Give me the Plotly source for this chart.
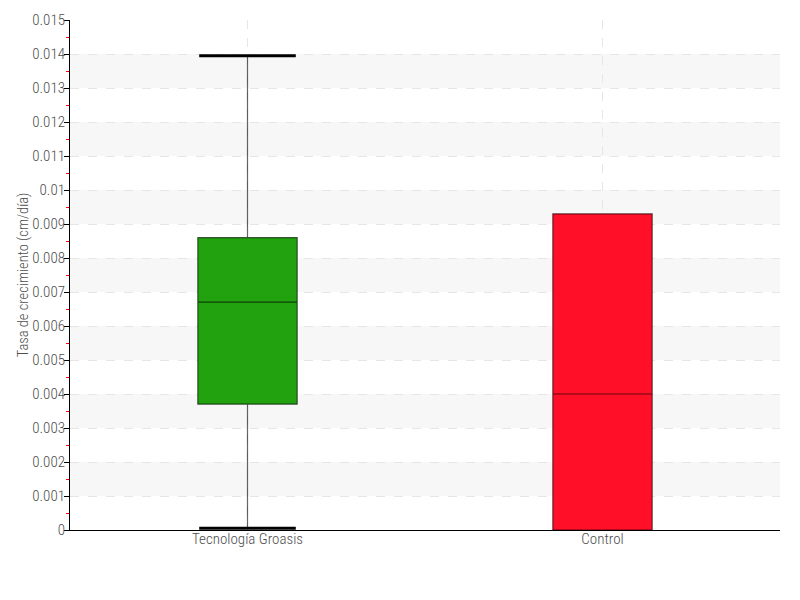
import plotly.graph_objects as go

categories = ["Tecnología Groasis", "Control"]
q1 = [0.0037, 0.0]
median = [0.0067, 0.004]
q3 = [0.0086, 0.0093]
lowerfence = [0.00005, 0.0]
upperfence = [0.01395, 0.0093]
colors = ["#22a20f", "#ff0f28"]
ytickvals = [i / 1000 for i in range(0, 16)]
yticktext = ["0"] + [f"{v:g}" for v in ytickvals[1:]]

FONT = "Roboto Condensed"

fig = go.Figure()
for i, c in enumerate(categories):
    fig.add_trace(go.Box(
        x=[c], q1=[q1[i]], median=[median[i]], q3=[q3[i]],
        lowerfence=[lowerfence[i]], upperfence=[upperfence[i]],
        fillcolor=colors[i], line=dict(color="rgba(0,0,0,0.6)", width=1.2),
        width=0.28, whiskerwidth=0, showlegend=False, hoverinfo="skip",
    ))

# thick whisker caps (only where whisker exists)
cap_x, cap_y = [], []
for i, c in enumerate(categories):
    if upperfence[i] > q3[i]:
        cap_x.append(c); cap_y.append(upperfence[i])
    if lowerfence[i] < q1[i]:
        cap_x.append(c); cap_y.append(lowerfence[i])
fig.add_trace(go.Scatter(
    x=cap_x, y=cap_y, mode="markers", showlegend=False, hoverinfo="skip",
    marker=dict(symbol="line-ew", size=69, line=dict(color="black", width=3)),
))

shapes = []
for k in range(1, 15, 2):
    shapes.append(dict(type="rect", xref="paper", yref="y", x0=0, x1=1,
                       y0=ytickvals[k], y1=ytickvals[k + 1],
                       fillcolor="#f7f7f7", line=dict(width=0), layer="below"))

fig.update_layout(
    width=800, height=600,
    margin=dict(l=62, r=28, t=12, b=78),
    plot_bgcolor="white", paper_bgcolor="white",
    font=dict(family=FONT, size=15, color="#4d4d4d", weight=300),
    shapes=shapes,
    xaxis=dict(
        automargin=False,
        showline=True, linecolor="black", linewidth=1,
        showgrid=True, gridcolor="#e6e6e6", griddash="dash", gridwidth=1,
        ticks="", ticklabelstandoff=-5,
        tickfont=dict(family=FONT, size=15, color="#4d4d4d", weight=300),
        range=[-0.5, 1.5],
    ),
    yaxis=dict(
        automargin=False,
        range=[0, 0.015], tickvals=ytickvals, ticktext=yticktext,
        showline=True, linecolor="black", linewidth=1,
        ticks="outside", ticklen=5, tickcolor="black",
        ticklabelstandoff=-4,
        showgrid=True, gridcolor="#e6e6e6", griddash="dash", gridwidth=1,
        zeroline=False,
        minor=dict(dtick=0.0005, ticks="outside", ticklen=3, tickcolor="red",
                   showgrid=False),
        title=dict(text="Tasa de crecimiento (cm/día)",
                   font=dict(family=FONT, size=14.5, color="#4d4d4d", weight=300),
                   standoff=0),
        tickfont=dict(family=FONT, size=15, color="#4d4d4d", weight=300),
    ),
)
fig.write_html("out.html")
